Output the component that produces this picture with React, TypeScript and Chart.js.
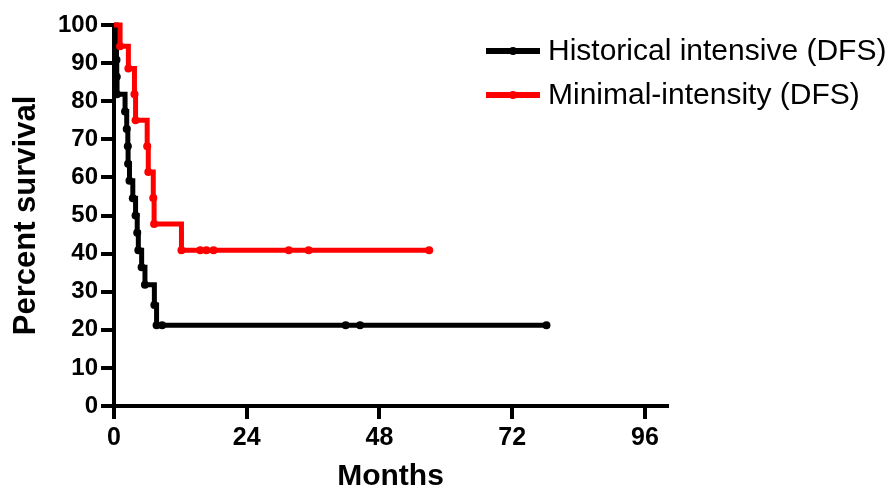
import React, { useEffect, useRef } from "react";
import { Chart, registerables } from "chart.js";

Chart.register(...registerables);

// ---- Data ----
const historicalMonths = [0, 0.4, 0.45, 0.5, 0.55, 2.0, 2.3, 2.5, 2.55, 2.8, 3.4, 3.9, 4.2, 4.4, 5.0, 5.6, 7.3, 7.7, 8.7, 41.9, 44.5, 78.2];
const historicalSurvival = [100, 95.5, 90.9, 86.4, 81.8, 77.3, 72.7, 68.2, 63.6, 59.1, 54.5, 50.0, 45.5, 40.9, 36.4, 31.8, 26.5, 21.2, 21.2, 21.2, 21.2, 21.2];

const minimalMonths = [0, 1.1, 2.6, 3.7, 3.9, 6.0, 6.2, 7.1, 7.25, 12.2, 15.6, 16.7, 18.0, 31.6, 35.2, 57.0];
const minimalSurvival = [100, 94.4, 88.6, 81.8, 75.0, 68.2, 61.4, 54.6, 47.8, 40.9, 40.9, 40.9, 40.9, 40.9, 40.9, 40.9];

const xTickValues = [0, 24, 48, 72, 96];
const yTickValues = [0, 10, 20, 30, 40, 50, 60, 70, 80, 90, 100];

const seriesLabels = ["Historical intensive (DFS)", "Minimal-intensity (DFS)"];
const seriesColors = ["#000000", "#ff0000"];
const xAxisTitle = "Months";
const yAxisTitle = "Percent survival";

const FONT = '"Liberation Sans", Arial, Helvetica, sans-serif';

const legendPlugin = {
  id: "kmLegend",
  afterDraw(chart: any) {
    const ctx = chart.ctx;
    ctx.save();
    chart.data.datasets.forEach((ds: any, i: number) => {
      const y = 51 + i * 44;
      ctx.strokeStyle = ds.borderColor;
      ctx.lineWidth = 6;
      ctx.lineCap = "butt";
      ctx.beginPath();
      ctx.moveTo(486, y);
      ctx.lineTo(540, y);
      ctx.stroke();
      ctx.fillStyle = ds.borderColor;
      ctx.beginPath();
      ctx.arc(513, y, 4, 0, Math.PI * 2);
      ctx.fill();
      ctx.font = `30px ${FONT}`;
      ctx.fillStyle = "#000";
      ctx.textBaseline = "middle";
      ctx.textAlign = "left";
      ctx.fillText(ds.label, 548, y + 1);
    });
    ctx.restore();
  },
};

export default function App() {
  const canvasRef = useRef<HTMLCanvasElement | null>(null);

  useEffect(() => {
    const canvas = canvasRef.current;
    if (!canvas) return;

    const makeDataset = (label: string, xs: number[], ys: number[], color: string, order: number) => ({
      label,
      order,
      data: xs.map((x, i) => ({ x, y: ys[i] })),
      borderColor: color,
      backgroundColor: color,
      borderWidth: 5,
      stepped: "before" as const,
      fill: false,
      pointRadius: (c: any) => (c.dataIndex === 0 ? 0 : 4),
      pointHoverRadius: 4,
      pointBackgroundColor: color,
      pointBorderWidth: 0,
      borderJoinStyle: "miter" as const,
      borderCapStyle: "butt" as const,
      clip: false as any,
    });

    const axisCommon = {
      grid: {
        display: true,
        drawOnChartArea: false,
        drawTicks: true,
        tickLength: 13,
        tickWidth: 4,
        tickColor: "#000",
        color: "#000",
        lineWidth: 4,
      },
      border: { display: true, color: "#000", width: 4 },
    };

    const chart = new Chart(canvas, {
      type: "line",
      data: {
        datasets: [
          makeDataset(seriesLabels[0], historicalMonths, historicalSurvival, seriesColors[0], 1),
          makeDataset(seriesLabels[1], minimalMonths, minimalSurvival, seriesColors[1], 0),
        ] as any,
      },
      options: {
        responsive: false,
        animation: false,
        devicePixelRatio: 1,
        layout: { padding: { top: 25, right: 221, left: 0, bottom: 0 } },
        plugins: {
          legend: { display: false },
          tooltip: { enabled: false },
        },
        events: [],
        scales: {
          x: {
            type: "linear",
            min: 0,
            max: 100,
            ...axisCommon,
            afterBuildTicks: (s: any) => {
              s.ticks = xTickValues.map((v) => ({ value: v }));
            },
            afterFit: (s: any) => {
              s.height = 89;
            },
            ticks: {
              color: "#000",
              font: { family: FONT, size: 25, weight: "bold" },
              padding: 4,
              maxRotation: 0,
              autoSkip: false,
            },
            title: {
              display: true,
              text: xAxisTitle,
              color: "#000",
              font: { family: FONT, size: 30, weight: "bold" },
              padding: { top: 0, bottom: 0 },
            },
          },
          y: {
            type: "linear",
            min: 0,
            max: 100,
            ...axisCommon,
            afterBuildTicks: (s: any) => {
              s.ticks = yTickValues.map((v) => ({ value: v }));
            },
            afterFit: (s: any) => {
              s.width = 114;
            },
            ticks: {
              color: "#000",
              font: { family: FONT, size: 24, weight: "bold" },
              padding: 3,
              autoSkip: false,
            },
            title: {
              display: true,
              text: yAxisTitle,
              color: "#000",
              font: { family: FONT, size: 31, weight: "bold" },
              padding: { top: 8, bottom: 0 },
            },
          },
        },
      } as any,
      plugins: [legendPlugin],
    });

    return () => {
      chart.destroy();
    };
  }, []);

  return (
    <div style={{ position: "fixed", left: 0, top: 0, width: 888, height: 495, background: "#fff" }}>
      <canvas ref={canvasRef} width={888} height={495} style={{ display: "block" }} />
    </div>
  );
}
